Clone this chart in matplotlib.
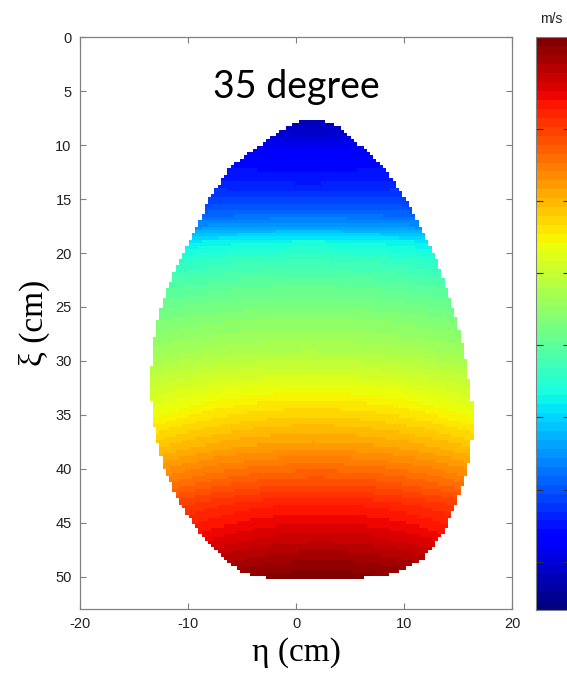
""" Campo de velocidade na regiao medida (35 graus) """

import numpy as np
import matplotlib.pyplot as plt

plt.rcParams['axes.unicode_minus'] = False

# Contorno da regiao medida: eta na borda esquerda / direita para cada xi (cm)
xi_borda = [7.7, 8.3, 8.9, 10.45, 12.0, 15.1, 18.2, 21.3, 24.3, 27.4, 30.5,
            33.6, 36.7, 39.8, 42.9, 46.0, 48.4, 49.7, 50.3]
eta_esq = [0.4, -0.8, -1.8, -3.95, -6.1, -8.1, -9.5, -11.05, -12.3, -13.05,
           -13.4, -13.4, -13.05, -12.3, -10.9, -8.9, -6.7, -4.9, -1.7]
eta_dir = [2.5, 3.9, 4.7, 6.4, 8.1, 10.25, 11.8, 13.3, 14.3, 15.2, 15.8,
           16.3, 16.4, 15.96, 15.0, 13.6, 11.8, 9.3, 4.7]

# Velocidade (m/s) ao longo de xi: no eixo central e junto a borda
xi_perfil = [7.7, 10.45, 13.5, 16.0, 17.5, 18.9, 20.6, 23.1, 25.9, 29.0,
             32.1, 35.2, 38.3, 41.4, 43.3, 46.0, 48.4, 50.3]
v_centro = [0.70, 1.20, 1.57, 2.07, 2.55, 3.31, 3.67, 4.06, 4.42, 4.78,
            5.29, 5.79, 6.29, 6.90, 7.28, 7.66, 8.01, 8.27]
v_borda = [0.70, 1.30, 1.60, 2.00, 2.45, 3.15, 3.50, 3.90, 4.25, 4.60,
           5.00, 5.40, 5.95, 6.55, 7.00, 7.40, 7.85, 8.20]

# Escala de cores
v_min, v_max = 0.33, 8.27
ticks_cbar = [1, 2, 3, 4, 5, 6, 7, 8]

# Malha de pontos (passo de 0.3 cm)
eta = np.arange(-14.0, 17.0, 0.3)
xi = np.arange(7.5, 50.6, 0.3)
ETA, XI = np.meshgrid(eta, xi)

esq = np.interp(XI, xi_borda, eta_esq)
dir_ = np.interp(XI, xi_borda, eta_dir)
meio = 0.5 * (esq + dir_)
meia_larg = np.maximum(0.5 * (dir_ - esq), 1e-6)
r = np.clip((ETA - meio) / meia_larg, -1, 1)

vc = np.interp(XI, xi_perfil, v_centro)
vb = np.interp(XI, xi_perfil, v_borda)
vel = vb + (vc - vb) * (1 - r ** 2)

fora = (ETA < esq) | (ETA > dir_) | (XI < xi_borda[0]) | (XI > xi_borda[-1])
vel = np.ma.masked_where(fora, vel)

# Figura
fig = plt.figure(figsize=(5.67, 6.77), dpi=100)
ax = fig.add_axes([0.1411, 0.1004, 0.7619, 0.8445])

cmap = plt.get_cmap('jet', 64)
malha = ax.pcolormesh(ETA, XI, vel, cmap=cmap, vmin=v_min, vmax=v_max,
                      shading='nearest')

ax.set_xlim(-20, 20)
ax.set_ylim(53, 0)
ax.set_xticks([-20, -10, 0, 10, 20])
ax.set_yticks(np.arange(0, 51, 5))
ax.tick_params(direction='in', top=True, right=True, length=4, width=0.8,
               color='#808080', labelsize=10.5, labelcolor='#222222', pad=6)
for lado in ax.spines.values():
    lado.set_edgecolor('#808080')
    lado.set_linewidth(0.9)

for rot in ax.get_xticklabels() + ax.get_yticklabels():
    rot.set_family('Liberation Sans')

ax.set_xlabel('η (cm)', family='Liberation Serif', fontsize=24, labelpad=4)
ax.set_ylabel('ξ (cm)', family='Liberation Serif', fontsize=24, labelpad=4)

ax.text(0, 4.6, '35 degree', ha='center', va='center', fontsize=27,
        family='Lato', color='black')

# Barra de cores (rotulos ficam fora da figura)
cax = fig.add_axes([0.9453, 0.099, 0.06, 0.846])
cbar = fig.colorbar(malha, cax=cax, ticks=ticks_cbar)
cbar.outline.set_edgecolor('#808080')
cax.tick_params(direction='in', left=True, right=True, length=5, width=0.8,
                color='#303030', labelright=False)
fig.text(551 / 567, 1 - 19 / 677, 'm/s', ha='center', va='center',
         fontsize=10, family='Liberation Sans', color='#222222')

plt.savefig('out.png', dpi=100)
